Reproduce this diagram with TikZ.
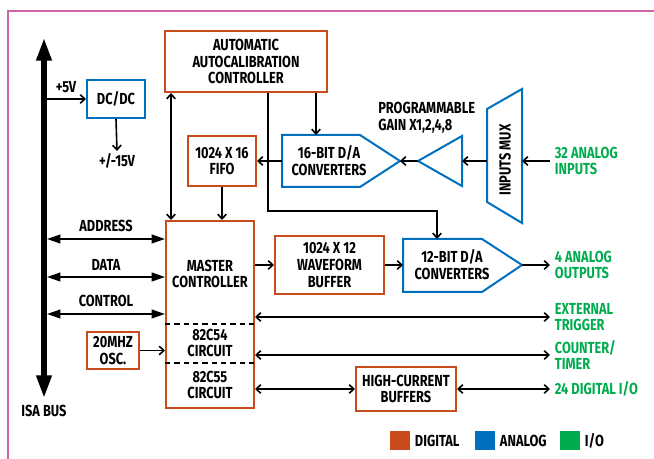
\documentclass[tikz,border=0pt]{standalone}
\usepackage{fontspec}
\newfontfamily\diagfont{Fira Sans}[FakeStretch=0.8]
\usetikzlibrary{arrows.meta, positioning}
\definecolor{digital}{RGB}{200,75,30}
\definecolor{analog}{RGB}{0,112,190}
\definecolor{iogreen}{RGB}{0,172,78}
\definecolor{framepink}{RGB}{205,100,165}

\begin{document}
\begin{tikzpicture}[x=0.75pt, y=-0.75pt,
    font=\diagfont\bfseries\fontsize{12}{12.6}\selectfont,
    >={Straight Barb[length=3.5pt,width=6.5pt]},
    dig/.style={draw=digital, line width=1.5pt, align=center, inner sep=0pt},
    ana/.style={draw=analog, line width=1.5pt, line join=miter},
    lbl/.style={align=center, inner sep=0pt},
    io/.style={text=iogreen, align=left, anchor=west, inner sep=3.5pt},
    sig/.style={line width=1.2pt, ->},
    sigboth/.style={line width=1.2pt, <->},
    buslink/.style={line width=1.5pt, {Triangle[length=10pt,width=6.5pt]}-{Triangle[length=10pt,width=6.5pt]}},
    key/.style={minimum width=15pt, minimum height=14.25pt, inner sep=0pt}]

  \useasboundingbox (0,0) rectangle (654,459);
  \draw[framepink, line width=2.2pt] (8,459) -- (8,11) -- (654,11);

  % ISA bus
  \coordinate (bustop) at (44,38);
  \coordinate (busbot) at (44,398);
  \draw[line width=3.8pt, {Triangle[length=17pt,width=11pt]}-{Triangle[length=17pt,width=11pt]}] (busbot) -- (bustop);
  \node[lbl, below=5pt of busbot] (isa) {ISA BUS};

  % boxes
  \node[dig, draw=analog, minimum width=43.5pt, minimum height=28.5pt] (dcdc) at (116,99) {DC/DC};
  \node[lbl, anchor=north, inner sep=2pt] (v15) at (117,151) {+/-15V};
  \node[dig, minimum width=121.5pt, minimum height=45.75pt] (autocal) at (246,61.5) {AUTOMATIC\\AUTOCALIBRATION\\CONTROLLER};
  \node[dig, minimum width=51pt, minimum height=37.5pt] (fifo) at (222,161) {1024 X 16\\FIFO};
  \node[dig, minimum width=66pt, minimum height=140.25pt] (master) at (210,314.5) {};
  \node[lbl] (mctext) at (210,274) {MASTER\\CONTROLLER};
  \node[lbl] (c54) at (210,343) {82C54\\CIRCUIT};
  \node[lbl] (c55) at (210,385) {82C55\\CIRCUIT};
  \draw[line width=1.2pt, dash pattern=on 4pt off 3pt] (master.west |- 0,324) -- (master.east |- 0,324);
  \draw[line width=1.2pt, dash pattern=on 4pt off 3pt] (master.west |- 0,363) -- (master.east |- 0,363);
  \node[dig, minimum width=39pt, minimum height=27.75pt] (osc) at (113,350.5) {20MHZ\\OSC.};
  \node[dig, minimum width=81.75pt, minimum height=43.5pt] (wave) at (329.5,265) {1024 X 12\\WAVEFORM\\BUFFER};
  \node[dig, minimum width=75pt, minimum height=33pt] (hcbuf) at (406,389) {HIGH-CURRENT\\BUFFERS};

  % analog parts
  \draw[ana] (282,135) -- (360,135) -- (400,161) coordinate (da16tip) -- (360,187) -- (282,187) -- cycle;
  \coordinate (da16in) at (282,161);
  \coordinate (da16top) at (316,135);
  \node[lbl] (da16) at (329,161) {16-BIT D/A\\CONVERTERS};
  \draw[ana] (418,161) coordinate (gaintip) -- (462,136) -- (462,186) -- cycle;
  \coordinate (gainin) at (462,161);
  \node[lbl, align=left, anchor=west] (gainlbl) at (378,118) {PROGRAMMABLE\\GAIN X1,2,4,8};
  \draw[ana] (487,109) -- (522,89) -- (522,223) -- (487,202) -- cycle;
  \coordinate (muxout) at (487,161);
  \coordinate (muxin) at (522,161);
  \node[lbl, rotate=90] (mux) at (505,160) {INPUTS MUX};
  \draw[ana] (403,239) -- (482,239) -- (522,265) coordinate (da12tip) -- (482,292) -- (403,292) -- cycle;
  \coordinate (da12in) at (403,265);
  \coordinate (da12top) at (437,239);
  \node[lbl] (da12) at (452,265) {12-BIT D/A\\CONVERTERS};

  % I/O labels
  \node[io] (inlbl) at (550,161) {32 ANALOG\\INPUTS};
  \node[io] (outlbl) at (550,265) {4 ANALOG\\OUTPUTS};
  \node[io] (trig) at (550,317) {EXTERNAL\\TRIGGER};
  \node[io] (cnt) at (550,355) {COUNTER/\\TIMER};
  \node[io] (dio) at (550,389) {24 DIGITAL I/O};

  % connections
  \coordinate (bus5v) at (46,99);
  \draw[sig] (bus5v) -- (dcdc.west) node[midway, above=1pt] {+5V};
  \draw[sig] (dcdc.south) -- (v15.north);
  \draw[sigboth] ([xshift=5.25pt]autocal.south west) -- ([xshift=4.5pt]master.north west);
  \draw[sig] (autocal.south -| da16top) -- (da16top);
  \draw[sig] ([xshift=16.5pt]autocal.south) -- ++(0,118) -| (da12top);
  \draw[sig] (da16in) -- (fifo.east);
  \draw[sig] (fifo.south) -- (fifo.south |- master.north);
  \draw[sig] (gaintip) -- (da16tip);
  \draw[sig] (muxout) -- (gainin);
  \draw[sig] (inlbl.west) -- (muxin);

  \coordinate (addr) at (47,239);
  \coordinate (data) at (47,277);
  \coordinate (ctrl) at (47,314);
  \draw[buslink] (addr) -- (addr -| master.west) node[midway, above=1pt] {ADDRESS};
  \draw[buslink] (data) -- (data -| master.west) node[midway, above=1pt] {DATA};
  \draw[buslink] (ctrl) -- (ctrl -| master.west) node[midway, above=1pt] {CONTROL};
  \draw[sig] (osc.east) -- (osc.east -| master.west);
  \draw[sig] (master.east |- wave.west) -- (wave.west);
  \draw[sig] (wave.east) -- (da12in);
  \draw[sig] (da12tip) -- (outlbl.west);
  \draw[sigboth] (master.east |- trig.west) -- (trig.west);
  \draw[sigboth] (master.east |- cnt.west) -- (cnt.west);
  \draw[sigboth] (master.east |- hcbuf.west) -- (hcbuf.west);
  \draw[sigboth] (hcbuf.east) -- (dio.west);

  % legend
  \node[key, fill=digital] (keydig) at (400,440.5) {};
  \node[right=0pt of keydig] (keydigtxt) {DIGITAL};
  \node[key, fill=analog] (keyana) at (485,440.5) {};
  \node[right=0pt of keyana] (keyanatxt) {ANALOG};
  \node[key, fill=iogreen] (keyio) at (570,440.5) {};
  \node[right=0pt of keyio] (keyiotxt) {I/O};
\end{tikzpicture}
\end{document}
